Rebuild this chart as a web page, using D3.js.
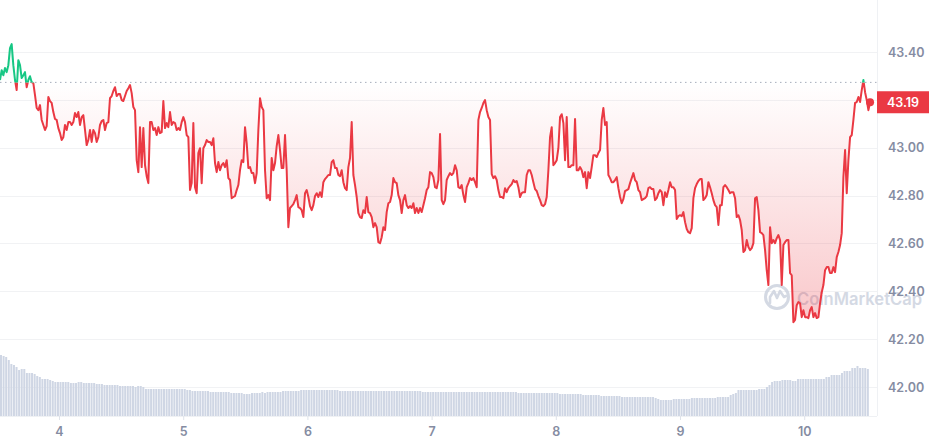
<!DOCTYPE html>
<html><head><meta charset="utf-8">
<script src="https://cdn.jsdelivr.net/npm/d3@7"></script>
<style>html,body{margin:0;padding:0;background:#fff;} svg{display:block;font-family:Inter,"Noto Sans",sans-serif;}</style>
</head><body><div id="chart"></div>
<script>
// ---- data ----
const dayTicks = [4, 5, 6, 7, 8, 9, 10];
const priceTicks = [42.0, 42.2, 42.4, 42.6, 42.8, 43.0, 43.2, 43.4];
const openPrice = 43.273;
const lastPriceLabel = "43.19";
const priceStartDay = 3.525;
const priceStepDay = 0.01342;
const prices = [
43.283,43.324,43.303,43.333,43.316,43.345,43.416,43.433,43.345,43.283,
43.241,43.366,43.345,43.291,43.303,43.316,43.253,43.283,43.299,43.274,
43.270,43.220,43.166,43.157,43.178,43.116,43.095,43.074,43.090,43.212,
43.195,43.187,43.149,43.120,43.116,43.082,43.061,43.032,43.044,43.095,
43.074,43.107,43.107,43.095,43.107,43.145,43.128,43.149,43.095,43.128,
43.136,43.074,43.011,43.032,43.074,43.024,43.074,43.061,43.024,43.044,
43.095,43.111,43.116,43.074,43.103,43.107,43.207,43.216,43.237,43.253,
43.216,43.224,43.224,43.199,43.195,43.216,43.237,43.249,43.262,43.228,
43.170,43.157,42.948,42.898,43.086,42.919,43.082,42.927,42.881,42.852,
43.107,43.107,43.074,43.082,43.053,43.086,43.061,43.065,43.195,43.082,
43.103,43.086,43.149,43.095,43.107,43.103,43.074,43.082,43.074,43.107,
43.128,43.107,43.053,43.044,42.823,42.852,43.103,42.835,42.810,42.978,
42.998,42.852,42.998,43.011,43.032,43.024,43.024,43.011,43.040,42.936,
42.898,42.940,42.906,42.927,42.936,42.919,42.948,42.873,42.865,42.789,
42.794,42.798,42.823,42.844,42.906,42.948,42.940,43.086,43.019,42.915,
42.919,42.894,42.894,42.852,42.894,43.074,43.207,43.170,43.157,42.906,
42.789,42.802,42.781,42.957,42.906,42.936,43.007,43.053,42.990,42.915,
42.915,43.053,42.906,42.668,42.748,42.756,42.764,42.781,42.802,42.752,
42.748,42.739,42.710,42.810,42.823,42.794,42.756,42.739,42.760,42.798,
42.810,42.794,42.814,42.794,42.856,42.869,42.877,42.886,42.886,42.940,
42.948,42.915,42.915,42.886,42.881,42.906,42.856,42.831,42.823,42.919,
42.957,43.107,42.886,42.844,42.794,42.727,42.710,42.706,42.739,42.727,
42.794,42.731,42.727,42.710,42.668,42.685,42.668,42.605,42.601,42.626,
42.668,42.656,42.731,42.768,42.773,42.802,42.873,42.856,42.852,42.802,
42.781,42.727,42.781,42.802,42.760,42.748,42.756,42.748,42.768,42.727,
42.748,42.727,42.748,42.731,42.760,42.789,42.823,42.835,42.898,42.894,
42.877,42.835,42.831,42.865,43.057,42.781,42.764,42.781,42.865,42.881,
42.894,42.886,42.894,42.927,42.906,42.835,42.831,42.844,42.802,42.773,
42.835,42.852,42.873,42.865,42.873,42.856,42.835,43.116,43.149,43.166,
43.187,43.199,43.157,43.128,43.116,42.890,42.873,42.881,42.865,42.823,
42.794,42.794,42.789,42.831,42.814,42.831,42.840,42.848,42.865,42.856,
42.861,42.835,42.794,42.810,42.814,42.814,42.886,42.906,42.906,42.886,
42.856,42.827,42.819,42.798,42.781,42.760,42.756,42.764,42.794,42.906,
43.044,43.086,42.927,42.936,42.948,42.998,43.128,43.140,43.103,42.948,
43.128,42.919,42.919,42.927,42.927,43.120,42.906,42.906,42.919,42.906,
42.877,42.898,42.831,42.898,42.873,42.919,42.969,42.969,42.961,42.978,
42.990,43.116,43.166,43.095,43.107,42.886,42.873,42.856,42.856,42.865,
42.877,42.831,42.794,42.768,42.785,42.819,42.823,42.827,42.852,42.873,
42.894,42.865,42.856,42.823,42.814,42.781,42.785,42.789,42.798,42.831,
42.835,42.827,42.827,42.781,42.789,42.810,42.823,42.814,42.760,42.814,
42.794,42.823,42.856,42.835,42.835,42.823,42.702,42.714,42.718,42.714,
42.731,42.689,42.660,42.647,42.643,42.664,42.789,42.831,42.848,42.861,
42.869,42.869,42.781,42.789,42.802,42.856,42.835,42.810,42.781,42.760,
42.752,42.677,42.760,42.760,42.835,42.844,42.835,42.823,42.810,42.814,
42.814,42.789,42.710,42.718,42.698,42.656,42.564,42.572,42.614,42.585,
42.572,42.580,42.601,42.789,42.794,42.739,42.647,42.643,42.635,42.572,
42.488,42.426,42.668,42.601,42.614,42.601,42.622,42.635,42.614,42.426,
42.593,42.605,42.614,42.614,42.476,42.467,42.271,42.280,42.342,42.355,
42.350,42.292,42.321,42.292,42.292,42.288,42.321,42.334,42.292,42.309,
42.288,42.292,42.350,42.396,42.426,42.488,42.501,42.501,42.476,42.476,
42.501,42.480,42.543,42.564,42.593,42.643,42.877,42.990,42.810,42.948,
43.044,43.053,43.116,43.187,43.191,43.212,43.191,43.241,43.283,43.232,
43.199,43.157,43.190
];
const volStartDay = 3.525;
const volStepDay = 1 / 48;
const volumes = [
61,60,59,56,52,51,49,46,47,47,
43,43,43,42,40,39,37,37,37,36,
35,34,34,34,34,34,34,33,33,33,
34,34,33,33,33,33,33,32,32,32,
31,31,31,31,31,31,30,30,30,30,
30,30,29,30,30,29,27,27,27,27,
27,27,27,27,27,27,27,27,27,27,
27,27,26,26,25,25,25,25,25,25,
25,24,24,24,24,24,24,24,24,23,
23,23,23,23,22,22,22,23,23,23,
23,24,23,24,24,24,24,24,24,25,
25,25,25,25,25,25,26,26,26,26,
26,26,26,26,26,26,26,26,26,26,
26,25,25,25,25,25,25,25,25,25,
25,25,25,25,25,25,25,25,25,25,
25,25,25,25,25,25,25,25,25,25,
25,25,25,24,24,24,24,24,24,24,
24,24,24,24,24,24,24,24,24,24,
24,24,24,24,24,24,24,24,24,24,
24,24,24,24,24,24,24,24,24,24,
23,23,23,23,23,23,23,23,23,23,
23,23,23,23,23,23,22,22,22,22,
22,22,22,22,22,21,21,21,21,21,
21,21,20,20,20,20,20,20,20,20,
19,19,19,19,19,19,19,19,19,19,
19,19,19,18,17,16,16,16,16,16,
17,17,17,17,17,17,17,18,18,18,
18,18,18,18,18,18,18,19,19,19,
19,19,21,22,23,26,26,26,26,26,
26,26,26,27,27,27,29,31,34,35,
35,35,36,36,36,36,35,35,37,37,
37,37,37,37,37,37,37,37,37,39,
39,41,41,41,41,43,45,45,45,48,
48,50,48,48,48,47
];

// ---- chart ----
const W = 931, H = 445, plotRight = 877, volBase = 416;
const RED = "#ea3943", GREEN = "#16c784", LABEL = "#858ca2";

const pts = prices.map((v, i) => ({ t: priceStartDay + i * priceStepDay, v }));
const vols = volumes.map((v, i) => ({ t: volStartDay + i * volStepDay, v }));
const lastPrice = prices[prices.length - 1];

const x = d3.scaleLinear().domain([3.525, 10.586]).range([0, plotRight]);
const y = d3.scaleLinear().domain([42.0, 43.4]).range([387, 52]);
const yv = d3.scaleLinear().domain([0, 100]).range([volBase, volBase - 100]);

const svg = d3.select("#chart").append("svg").attr("width", W).attr("height", H);
const defs = svg.append("defs");
const yb = y(openPrice);

defs.append("clipPath").attr("id", "above").append("rect")
  .attr("x", 0).attr("y", 0).attr("width", plotRight).attr("height", yb);
defs.append("clipPath").attr("id", "below").append("rect")
  .attr("x", 0).attr("y", yb).attr("width", plotRight).attr("height", H - yb);

const gr = defs.append("linearGradient").attr("id", "redfill")
  .attr("gradientUnits", "userSpaceOnUse").attr("x1", 0).attr("x2", 0)
  .attr("y1", yb).attr("y2", y(42.2));
gr.append("stop").attr("offset", 0).attr("stop-color", RED).attr("stop-opacity", 0.0);
gr.append("stop").attr("offset", 1).attr("stop-color", RED).attr("stop-opacity", 0.3);
const gg = defs.append("linearGradient").attr("id", "greenfill")
  .attr("gradientUnits", "userSpaceOnUse").attr("x1", 0).attr("x2", 0)
  .attr("y1", yb).attr("y2", y(43.45));
gg.append("stop").attr("offset", 0).attr("stop-color", GREEN).attr("stop-opacity", 0.0);
gg.append("stop").attr("offset", 1).attr("stop-color", GREEN).attr("stop-opacity", 0.15);

// gridlines
svg.append("g").selectAll("line").data(priceTicks).join("line")
  .attr("x1", 0).attr("x2", plotRight)
  .attr("y1", d => Math.round(y(d)) + 0.5).attr("y2", d => Math.round(y(d)) + 0.5)
  .attr("stroke", "#f1f2f4").attr("stroke-width", 1);

// volume bars
svg.append("g").selectAll("rect").data(vols).join("rect")
  .attr("x", d => x(d.t))
  .attr("width", 2)
  .attr("y", d => yv(d.v))
  .attr("height", d => volBase - yv(d.v))
  .attr("fill", "#cfd6e4");

// right border
svg.append("line").attr("x1", plotRight + 0.5).attr("x2", plotRight + 0.5)
  .attr("y1", 0).attr("y2", volBase).attr("stroke", "#eff1f4");

// watermark
const wm = svg.append("g").attr("opacity", 0.85);
wm.append("circle").attr("cx", 777).attr("cy", 297).attr("r", 11.5)
  .attr("fill", "none").attr("stroke", "#cdd3df").attr("stroke-width", 3);
wm.append("path").attr("d", "M770,303 L770,297 L774,291 L777,298 L780,291 L784,297 L786,296")
  .attr("fill", "none").attr("stroke", "#cdd3df").attr("stroke-width", 2.6)
  .attr("stroke-linejoin", "round").attr("stroke-linecap", "round");
wm.append("text").attr("x", 797).attr("y", 305).text("CoinMarketCap")
  .attr("font-size", 17).attr("font-weight", 600).attr("fill", "#cdd3df")
  .attr("textLength", 125).attr("lengthAdjust", "spacingAndGlyphs");

// area fills
const area = d3.area().x(d => x(d.t)).y0(yb).y1(d => y(d.v)).curve(d3.curveLinear);
svg.append("path").datum(pts).attr("d", area).attr("fill", "url(#redfill)").attr("clip-path", "url(#below)");
svg.append("path").datum(pts).attr("d", area).attr("fill", "url(#greenfill)").attr("clip-path", "url(#above)");

// baseline dotted
svg.append("line").attr("x1", 0).attr("x2", plotRight).attr("y1", yb).attr("y2", yb)
  .attr("stroke", "#a7adbb").attr("stroke-width", 1).attr("stroke-dasharray", "1.5 3.5");

// price line
const line = d3.line().x(d => x(d.t)).y(d => y(d.v)).curve(d3.curveLinear);
svg.append("path").datum(pts).attr("d", line).attr("fill", "none").attr("stroke", RED)
  .attr("stroke-width", 2).attr("stroke-linejoin", "round").attr("clip-path", "url(#below)");
svg.append("path").datum(pts).attr("d", line).attr("fill", "none").attr("stroke", GREEN)
  .attr("stroke-width", 2).attr("stroke-linejoin", "round").attr("clip-path", "url(#above)");

// end dot
const last = pts[pts.length - 1];
svg.append("circle").attr("cx", x(last.t)).attr("cy", y(last.v)).attr("r", 4).attr("fill", RED);

// y axis (right) — the label hidden behind the price tag is left out
const tagTop = y(lastPrice) - 11, tagBottom = y(lastPrice) + 11;
const labelTicks = priceTicks.filter(d => y(d) < tagTop - 6 || y(d) > tagBottom + 6);
const yAxis = d3.axisRight(y).tickValues(labelTicks).tickFormat(d3.format(".2f")).tickSize(0).tickPadding(11);
const gy = svg.append("g").attr("transform", `translate(${plotRight},0)`).call(yAxis);
gy.select(".domain").remove();
gy.selectAll("text").attr("fill", LABEL).attr("font-size", 12.5).attr("font-weight", 600)
  .attr("font-family", "Inter, 'Noto Sans', sans-serif");

// price tag
svg.append("rect").attr("x", plotRight).attr("y", tagTop).attr("width", 52).attr("height", 22).attr("fill", RED);
svg.append("text").attr("x", plotRight + 26).attr("y", y(lastPrice)).attr("dy", "0.35em")
  .attr("text-anchor", "middle").attr("fill", "#fff").attr("font-size", 12.5).attr("font-weight", 600)
  .text(lastPriceLabel);

// x axis
const xAxis = d3.axisBottom(x).tickValues(dayTicks).tickFormat(d3.format("d")).tickSize(4).tickPadding(7);
const gx = svg.append("g").attr("transform", `translate(0,${volBase})`).call(xAxis);
gx.select(".domain").attr("stroke", "#eff1f4").attr("d", `M0,0.5H${plotRight}`);
gx.selectAll(".tick line").attr("stroke", "#dfe3ea");
gx.selectAll("text").attr("fill", LABEL).attr("font-size", 12.5).attr("font-weight", 600)
  .attr("font-family", "Inter, 'Noto Sans', sans-serif");
</script>
</body></html>
